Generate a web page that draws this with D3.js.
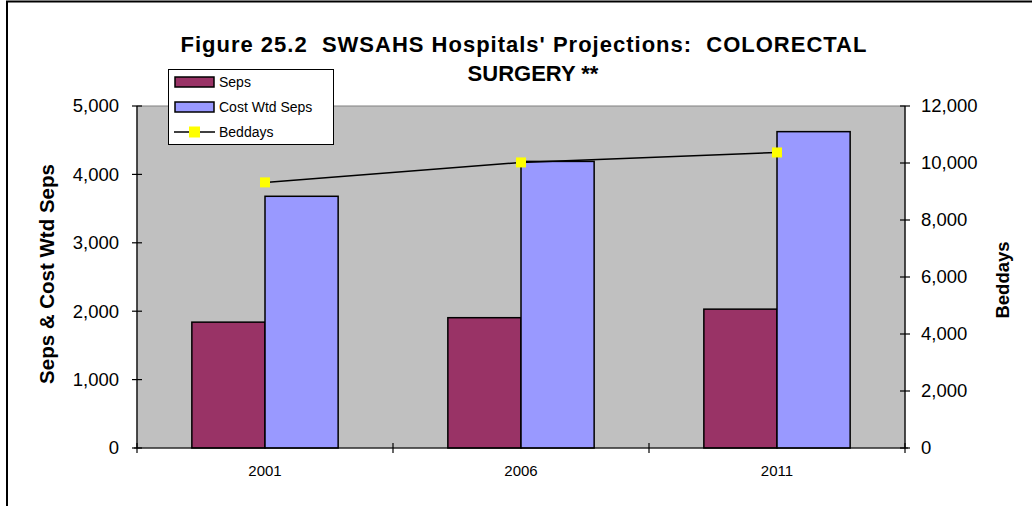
<!DOCTYPE html>
<html><head><meta charset="utf-8">
<script src="https://cdn.jsdelivr.net/npm/d3@7"></script>
<style>body{margin:0;background:#fff}svg{display:block}text{font-family:"Liberation Sans",Arial,sans-serif;white-space:pre}</style>
</head><body><svg id="c" width="1032" height="506"></svg>
<script>
const categories = ["2001","2006","2011"];
const seps = [1840, 1905, 2030];
const costWtdSeps = [3680, 4190, 4625];
const beddays = [9320, 10020, 10370];
const leftTicks = [0,1000,2000,3000,4000,5000];
const rightTicks = [0,2000,4000,6000,8000,10000,12000];

const svg = d3.select("#c");
const L=137, R=905, T=106, B=448;
const x = d3.scaleBand().domain(categories).range([L,R]);
const yL = d3.scaleLinear().domain([0,5000]).range([B,T]);
const yR = d3.scaleLinear().domain([0,12000]).range([B,T]);
const fmt = d3.format(",");

// outer border
svg.append("path").attr("d","M7,506V1.5H1032").attr("fill","none").attr("stroke","#000").attr("stroke-width",2);

// plot area
svg.append("rect").attr("x",L).attr("y",T).attr("width",R-L).attr("height",B-T).attr("fill","#c0c0c0").attr("stroke","#808080").attr("stroke-width",1);

const bw = x.bandwidth()/3.5;
const off = (x.bandwidth()-2*bw)/2;
const g = svg.append("g");
g.selectAll(".s").data(seps).join("rect")
 .attr("x",(d,i)=>x(categories[i])+off).attr("y",d=>yL(d)).attr("width",bw).attr("height",d=>B-yL(d))
 .attr("fill","#993366").attr("stroke","#000").attr("stroke-width",1.5);
g.selectAll(".c").data(costWtdSeps).join("rect")
 .attr("x",(d,i)=>x(categories[i])+off+bw).attr("y",d=>yL(d)).attr("width",bw).attr("height",d=>B-yL(d))
 .attr("fill","#9999ff").attr("stroke","#000").attr("stroke-width",1.5);

// axes
const ax = svg.append("g").attr("stroke","#000").attr("stroke-width",1.2);
ax.append("line").attr("x1",L).attr("x2",L).attr("y1",T).attr("y2",B);
ax.append("line").attr("x1",R).attr("x2",R).attr("y1",T).attr("y2",B);
ax.append("line").attr("x1",L-3).attr("x2",R+3).attr("y1",B).attr("y2",B);
leftTicks.forEach(v=>{
  ax.append("line").attr("x1",L-5).attr("x2",L+5).attr("y1",yL(v)).attr("y2",yL(v));
  svg.append("text").attr("x",119).attr("y",yL(v)).attr("dy","0.35em").attr("text-anchor","end").attr("font-size",18.5).text(fmt(v));
});
rightTicks.forEach(v=>{
  ax.append("line").attr("x1",R-5).attr("x2",R+5).attr("y1",yR(v)).attr("y2",yR(v));
  svg.append("text").attr("x",921).attr("y",yR(v)).attr("dy","0.35em").attr("text-anchor","start").attr("font-size",18.5).text(fmt(v));
});
const bounds = categories.map(c=>x(c)).concat([R]);
bounds.forEach(b=>ax.append("line").attr("x1",b).attr("x2",b).attr("y1",B-5).attr("y2",B+5));
categories.forEach(c=>{
  svg.append("text").attr("x",x(c)+x.bandwidth()/2).attr("y",476).attr("text-anchor","middle").attr("font-size",15).text(c);
});

// line
const cx = i=>x(categories[i])+off+bw;
svg.append("path").datum(beddays).attr("fill","none").attr("stroke","#000").attr("stroke-width",1.5)
 .attr("d",d3.line().x((d,i)=>cx(i)).y(d=>yR(d)));
svg.selectAll(".m").data(beddays).join("rect").attr("x",(d,i)=>cx(i)-5).attr("y",d=>yR(d)-5).attr("width",10).attr("height",10).attr("fill","#ffff00");

// titles
svg.append("text").attr("x",524).attr("y",52).attr("text-anchor","middle").attr("font-size",22).attr("letter-spacing",1).attr("font-weight","bold").text("Figure 25.2  SWSAHS Hospitals' Projections:  COLORECTAL");
svg.append("text").attr("x",533).attr("y",81).attr("text-anchor","middle").attr("font-size",22).attr("font-weight","bold").text("SURGERY **");
svg.append("text").attr("transform","translate(54,274) rotate(-90)").attr("text-anchor","middle").attr("font-size",20.5).attr("font-weight","bold").text("Seps & Cost Wtd Seps");
svg.append("text").attr("transform","translate(1009,280) rotate(-90)").attr("text-anchor","middle").attr("font-size",18.5).attr("font-weight","bold").text("Beddays");

// legend
const lg = svg.append("g");
lg.append("rect").attr("x",168.5).attr("y",69.5).attr("width",165).attr("height",75).attr("fill","#fff").attr("stroke","#000").attr("stroke-width",1);
lg.append("rect").attr("x",175).attr("y",77).attr("width",39).attr("height",10).attr("fill","#993366").attr("stroke","#000").attr("stroke-width",1.5);
lg.append("rect").attr("x",175).attr("y",102).attr("width",39).attr("height",10).attr("fill","#9999ff").attr("stroke","#000").attr("stroke-width",1.5);
lg.append("line").attr("x1",174).attr("x2",215).attr("y1",132).attr("y2",132).attr("stroke","#000").attr("stroke-width",1.5);
lg.append("rect").attr("x",189).attr("y",126.5).attr("width",11).attr("height",11).attr("fill","#ffff00");
[["Seps",82],["Cost Wtd Seps",107],["Beddays",132]].forEach(([t,y])=>{
  lg.append("text").attr("x",219).attr("y",y).attr("dy","0.35em").attr("font-size",14).text(t);
});
</script></body></html>
